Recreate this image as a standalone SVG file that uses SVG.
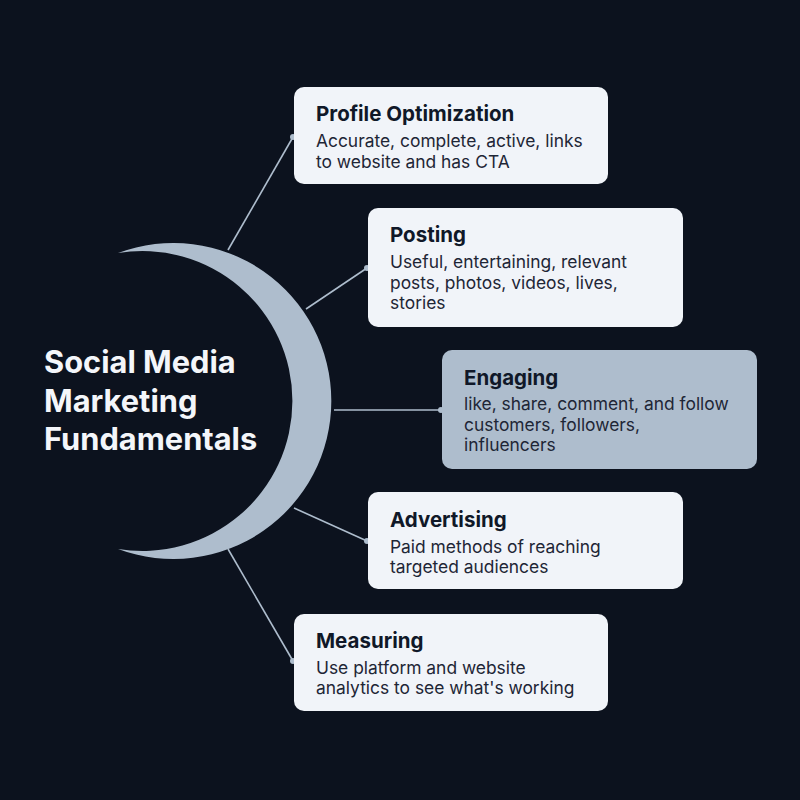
<svg xmlns="http://www.w3.org/2000/svg" width="800" height="800" viewBox="0 0 800 800">
<style>
.bg{fill:#0c121e}
.box{fill:#f1f4f9}
.hl{fill:#aebdcd}
.t{font-family:Inter,"Noto Sans","Liberation Sans",sans-serif;font-weight:700;font-size:20.5px;fill:#101828}
.d{font-family:Inter,"Noto Sans","Liberation Sans",sans-serif;font-weight:400;font-size:17.4px;fill:#1e2636}
.main{font-family:Inter,"Noto Sans","Liberation Sans",sans-serif;font-weight:700;font-size:30.8px;fill:#f4f6fa}
.ln{stroke:#aebdcd;stroke-width:1.6;fill:none}
.dot{fill:#aebdcd}
</style>
<rect class="bg" width="800" height="800"/>
<g id="connectors">
<line class="ln" x1="228" y1="250" x2="293" y2="137"/>
<line class="ln" x1="306" y1="309" x2="367" y2="268"/>
<line class="ln" x1="334" y1="410" x2="441" y2="410"/>
<line class="ln" x1="294" y1="508" x2="367" y2="541"/>
<line class="ln" x1="228" y1="549" x2="293" y2="661"/>
<circle class="dot" cx="293" cy="137" r="3"/>
<circle class="dot" cx="367" cy="268" r="3"/>
<circle class="dot" cx="441" cy="410" r="3"/>
<circle class="dot" cx="367" cy="541" r="3"/>
<circle class="dot" cx="293" cy="661" r="3"/>
</g>
<g id="center">
<path fill="#aebdcd" d="M118 253 A158 158 0 1 1 118 549 A150 150 0 1 0 118 253 Z"/>
<text class="main" x="44" y="373">Social Media</text>
<text class="main" x="44" y="412">Marketing</text>
<text class="main" x="44" y="450">Fundamentals</text>
</g>
<g id="profile">
<rect class="box" x="294" y="87" width="314" height="97" rx="10"/>
<text class="t" x="316" y="121">Profile Optimization</text>
<text class="d" x="316" y="147">Accurate, complete, active, links</text>
<text class="d" x="316" y="168">to website and has CTA</text>
</g>
<g id="posting">
<rect class="box" x="368" y="208" width="315" height="119" rx="10"/>
<text class="t" x="390" y="242">Posting</text>
<text class="d" x="390" y="268">Useful, entertaining, relevant</text>
<text class="d" x="390" y="289">posts, photos, videos, lives,</text>
<text class="d" x="390" y="309">stories</text>
</g>
<g id="engaging">
<rect class="hl" x="442" y="350" width="315" height="119" rx="10"/>
<text class="t" x="464" y="385">Engaging</text>
<text class="d" x="464" y="410">like, share, comment, and follow</text>
<text class="d" x="464" y="431">customers, followers,</text>
<text class="d" x="464" y="451">influencers</text>
</g>
<g id="advertising">
<rect class="box" x="368" y="492" width="315" height="97" rx="10"/>
<text class="t" x="390" y="527">Advertising</text>
<text class="d" x="390" y="553">Paid methods of reaching</text>
<text class="d" x="390" y="573">targeted audiences</text>
</g>
<g id="measuring">
<rect class="box" x="294" y="614" width="314" height="97" rx="10"/>
<text class="t" x="316" y="648">Measuring</text>
<text class="d" x="316" y="674">Use platform and website</text>
<text class="d" x="316" y="694">analytics to see what's working</text>
</g>
</svg>
